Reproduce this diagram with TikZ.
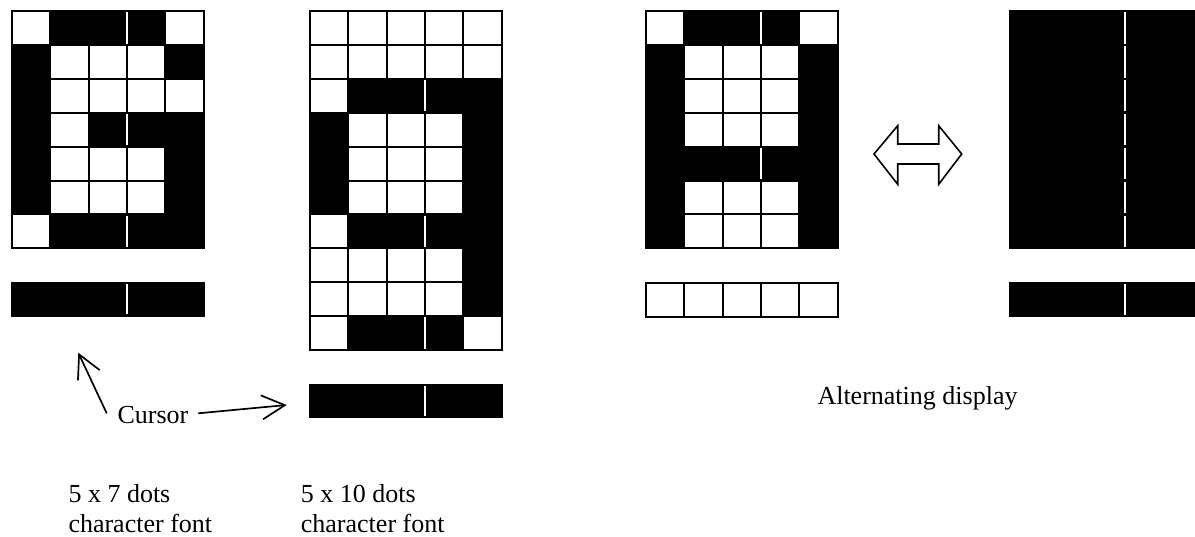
\documentclass[tikz,border=0pt]{standalone}
\usepackage{fontspec}
\setmainfont{Liberation Serif}
\usetikzlibrary{arrows.meta}
\newcommand\cw{38.35}
\newcommand\ch{33.9}
\tikzset{
  cellwhite/.style={fill=white,draw=black,line width=2pt},
  cellblack/.style={fill=black,draw=black,line width=2pt},
  gapline/.style={draw=white,line width=1.4pt},
  lbl/.style={inner sep=0pt,font=\fontsize{26}{30}\selectfont},
  cursorarrow/.style={draw=black,line width=1.7pt,-{Straight Barb[length=23pt,width=24pt,line width=1.7pt]}},
  dblarrow/.style={draw=black,line width=1.6pt,line join=miter}
}
% #1 x0, #2 y0, #3 rows
\newcommand\dotgrid[3]{%
  \foreach \rowdata [count=\rr from 0] in {#3}{%
    \foreach \vv [count=\cc from 0] in \rowdata {%
      \ifnum\vv=0
        \path[cellwhite] ({#1+\cc*\cw},{#2+\rr*\ch}) rectangle ++(\cw,\ch);
      \fi
    }%
  }%
  \foreach \rowdata [count=\rr from 0] in {#3}{%
    \foreach \vv [count=\cc from 0] in \rowdata {%
      \ifnum\vv=1
        \path[cellblack] ({#1+\cc*\cw},{#2+\rr*\ch}) rectangle ++(\cw,\ch);
      \fi
    }%
  }%
}
% #1 x0, #2 y0, #3 row height, #4 rows with gap
\newcommand\dotgaps[4]{%
  \foreach \gg in {#4}{%
    \path[gapline] ({#1+3*\cw},{#2+\gg*#3+1.3}) -- ++(0,{#3-2.6});
  }%
}
\begin{document}
\begin{tikzpicture}[x=1pt,y=-1pt]
\useasboundingbox (0,0) rectangle (1195,536);
\clip (0,0) rectangle (1195,536);

% 5x7 font "G"
\dotgrid{12}{11}{{0,1,1,1,0},{1,0,0,0,1},{1,0,0,0,0},{1,0,1,1,1},{1,0,0,0,1},{1,0,0,0,1},{0,1,1,1,1}}
\dotgaps{12}{11}{\ch}{0,3,6}
% cursor bar
\path[cellblack] (12,283) rectangle ++({5*\cw},32.5);
\dotgaps{12}{283}{32.5}{0}

% 5x10 font "g"
\dotgrid{310}{11}{{0,0,0,0,0},{0,0,0,0,0},{0,1,1,1,1},{1,0,0,0,1},{1,0,0,0,1},{1,0,0,0,1},{0,1,1,1,1},{0,0,0,0,1},{0,0,0,0,1},{0,1,1,1,0}}
\dotgaps{310}{11}{\ch}{2,6,9}
\path[cellblack] (310,385) rectangle ++({5*\cw},32);
\dotgaps{310}{385}{32}{0}

% "A" with blank cursor
\dotgrid{646}{11}{{0,1,1,1,0},{1,0,0,0,1},{1,0,0,0,1},{1,0,0,0,1},{1,1,1,1,1},{1,0,0,0,1},{1,0,0,0,1}}
\dotgaps{646}{11}{\ch}{0,4}
\dotgrid{646}{283}{{0,0,0,0,0}}

% all black
\dotgrid{1010}{11}{{1,1,1,1,1},{1,1,1,1,1},{1,1,1,1,1},{1,1,1,1,1},{1,1,1,1,1},{1,1,1,1,1},{1,1,1,1,1}}
\dotgaps{1010}{11}{\ch}{0,1,2,3,4,5,6}
\path[cellblack] (1010,283) rectangle ++({5*\cw},33);
\dotgaps{1010}{283}{33}{0}

% double arrow
\draw[dblarrow] (874,154) -- (897.7,125.7) -- (897.7,144) -- (938.7,144) -- (938.7,125.7) -- (961.7,154) -- (938.7,184.3) -- (938.7,164) -- (897.7,164) -- (897.7,184.3) -- cycle;

% labels
\node[lbl,anchor=base west] (cursor) at (117.3,423.3) {Cursor};
\coordinate (tail1) at (106.7,413.3);
\coordinate (tip1) at (78.3,352.7);
\coordinate (tail2) at (198.3,413.3);
\coordinate (tip2) at (286.7,405);
\draw[cursorarrow] (tail1) -- (tip1);
\draw[cursorarrow] (tail2) -- (tip2);

\node[lbl,anchor=base west] (alt) at (817.3,404.3) {Alternating display};
\node[lbl,anchor=base west] (f7a) at (68.3,502.3) {5 x 7 dots};
\node[lbl,anchor=base west] (f7b) at (68.3,532.5) {character font};
\node[lbl,anchor=base west] (f10a) at (300.7,502.3) {5 x 10 dots};
\node[lbl,anchor=base west] (f10b) at (300.7,532.5) {character font};
\end{tikzpicture}
\end{document}
